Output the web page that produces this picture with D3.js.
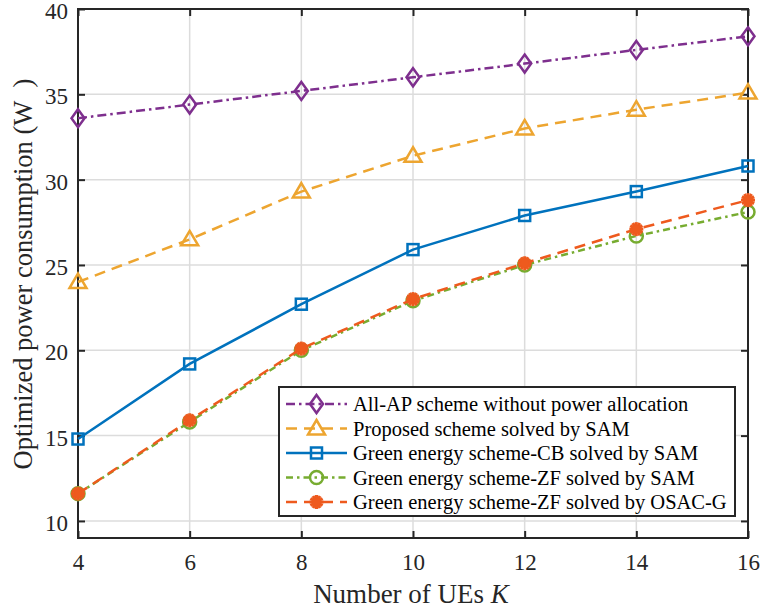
<!DOCTYPE html>
<html>
<head>
<meta charset="utf-8">
<script src="https://cdn.jsdelivr.net/npm/d3@7"></script>
<style>
  body { margin: 0; background: #fff; }
  svg, svg text { font-family: "Liberation Serif", "Times New Roman", serif; }
</style>
</head>
<body>
<svg id="chart" width="763" height="611"></svg>
<script>
// data
var users = [4, 6, 8, 10, 12, 14, 16];
var allAP = [33.6, 34.4, 35.2, 36.0, 36.8, 37.6, 38.4];
var proposedSAM = [24.0, 26.5, 29.3, 31.4, 33.0, 34.1, 35.1];
var greenCB = [14.8, 19.2, 22.7, 25.9, 27.9, 29.3, 30.8];
var greenZF = [11.6, 15.8, 20.0, 22.9, 25.0, 26.7, 28.1];
var greenZFosac = [11.6, 15.9, 20.1, 23.0, 25.1, 27.1, 28.8];
var xTicks = [4, 6, 8, 10, 12, 14, 16];
var yTicks = [10, 15, 20, 25, 30, 35, 40];

var series = [
    { name: "All-AP scheme without power allocation", values: allAP, color: "#7E2F8E", dash: "9,4,2.5,4", marker: "diamond" },
    { name: "Proposed scheme solved by SAM", values: proposedSAM, color: "#EDA530", dash: "11,7", marker: "triangle" },
    { name: "Green energy scheme-CB solved by SAM", values: greenCB, color: "#0072BD", dash: null, marker: "square" },
    { name: "Green energy scheme-ZF solved by SAM", values: greenZF, color: "#77AC30", dash: "7,4,2.5,4", marker: "circle" },
    { name: "Green energy scheme-ZF solved by OSAC-G", values: greenZFosac, color: "#EE5A1E", dash: "11,7", marker: "asterisk" }
];

var svg = d3.select("#chart");
var plotL = 78, plotR = 748, plotT = 9, plotB = 538;

var x = d3.scaleLinear().domain([4, 16]).range([plotL, plotR]);
var y = d3.scaleLinear().domain([9, 40]).range([plotB, plotT]);

// grid
var grid = svg.append("g").attr("stroke", "#dcdcdc").attr("stroke-width", 1.5);
grid.selectAll(".gx").data(xTicks).enter().append("line")
    .attr("x1", d => x(d)).attr("x2", d => x(d)).attr("y1", plotT).attr("y2", plotB);
grid.selectAll(".gy").data(yTicks).enter().append("line")
    .attr("y1", d => y(d)).attr("y2", d => y(d)).attr("x1", plotL).attr("x2", plotR);

// axes
var xAxis = d3.axisBottom(x).tickValues(xTicks).tickSizeInner(-7).tickSizeOuter(0).tickPadding(16);
var yAxis = d3.axisLeft(y).tickValues(yTicks).tickSizeInner(-7).tickSizeOuter(0).tickPadding(10);
var xTop = d3.axisTop(x).tickValues(xTicks).tickSizeInner(-7).tickSizeOuter(0).tickFormat("");
var yRight = d3.axisRight(y).tickValues(yTicks).tickSizeInner(-7).tickSizeOuter(0).tickFormat("");

function styleAxis(g) {
    g.attr("font-family", "Liberation Serif, serif").attr("font-size", 23);
    g.select(".domain").remove();
    g.selectAll(".tick line").attr("stroke", "#262626").attr("stroke-width", 2);
    g.selectAll(".tick text").attr("fill", "#262626");
}
svg.append("g").attr("transform", "translate(0," + plotB + ")").call(xAxis).call(styleAxis);
svg.append("g").attr("transform", "translate(" + plotL + ",0)").call(yAxis).call(styleAxis)
    .selectAll(".tick text").attr("dy", "0.42em");
svg.append("g").attr("transform", "translate(0," + plotT + ")").call(xTop).call(styleAxis);
svg.append("g").attr("transform", "translate(" + plotR + ",0)").call(yRight).call(styleAxis);

svg.append("rect").attr("x", plotL).attr("y", plotT).attr("width", plotR - plotL).attr("height", plotB - plotT)
    .attr("fill", "none").attr("stroke", "#262626").attr("stroke-width", 2);

// markers
function drawMarker(g, type, color) {
    if (type == "diamond") {
        g.append("path").attr("d", "M0,-9L6.5,0L0,9L-6.5,0Z").attr("fill", "none").attr("stroke", color).attr("stroke-width", 2.5);
    } else if (type == "triangle") {
        g.append("path").attr("d", "M0,-8.5L8.5,6L-8.5,6Z").attr("fill", "none").attr("stroke", color).attr("stroke-width", 2.5);
    } else if (type == "square") {
        g.append("rect").attr("x", -5.5).attr("y", -5.5).attr("width", 11).attr("height", 11)
            .attr("fill", "none").attr("stroke", color).attr("stroke-width", 2.5);
    } else if (type == "circle") {
        g.append("circle").attr("r", 6.5).attr("fill", "none").attr("stroke", color).attr("stroke-width", 2.5);
    } else if (type == "asterisk") {
        [0, 30, 60, 90, 120, 150].forEach(function (a) {
            g.append("line").attr("x1", 0).attr("y1", -7).attr("x2", 0).attr("y2", 7)
                .attr("transform", "rotate(" + a + ")").attr("stroke", color).attr("stroke-width", 3);
        });
        g.append("circle").attr("r", 4).attr("fill", color);
    }
}

var line = d3.line().x((d, i) => x(users[i])).y(d => y(d));

series.forEach(function (s) {
    svg.append("path").datum(s.values).attr("d", line)
        .attr("fill", "none").attr("stroke", s.color).attr("stroke-width", 2.5)
        .attr("stroke-dasharray", s.dash);
    s.values.forEach(function (v, i) {
        var g = svg.append("g").attr("transform", "translate(" + x(users[i]) + "," + y(v) + ")");
        drawMarker(g, s.marker, s.color);
    });
});

// legend
var lg = svg.append("g");
lg.append("rect").attr("x", 279).attr("y", 387).attr("width", 456).attr("height", 129)
    .attr("fill", "#fff").attr("stroke", "#262626").attr("stroke-width", 2);
series.forEach(function (s, i) {
    var cy = 404 + i * 24.5;
    lg.append("line").attr("x1", 286).attr("x2", 347).attr("y1", cy).attr("y2", cy)
        .attr("stroke", s.color).attr("stroke-width", 2.5).attr("stroke-dasharray", s.dash);
    var g = lg.append("g").attr("transform", "translate(316.5," + cy + ")");
    drawMarker(g, s.marker, s.color);
    lg.append("text").attr("x", 353).attr("y", cy + 7).text(s.name)
        .style("font-size", "20.5px").attr("fill", "#000");
});

// axis labels
svg.append("text").attr("x", 411).attr("y", 603).attr("text-anchor", "middle")
    .style("font-size", "27px").attr("fill", "#262626")
    .html('Number of UEs <tspan font-style="italic">K</tspan>');
svg.append("text").attr("transform", "translate(32,274) rotate(-90)").attr("text-anchor", "middle")
    .style("font-size", "26.5px").attr("fill", "#262626")
    .attr("xml:space", "preserve")
    .text("Optimized power consumption (W\u2002)");
</script>
</body>
</html>
